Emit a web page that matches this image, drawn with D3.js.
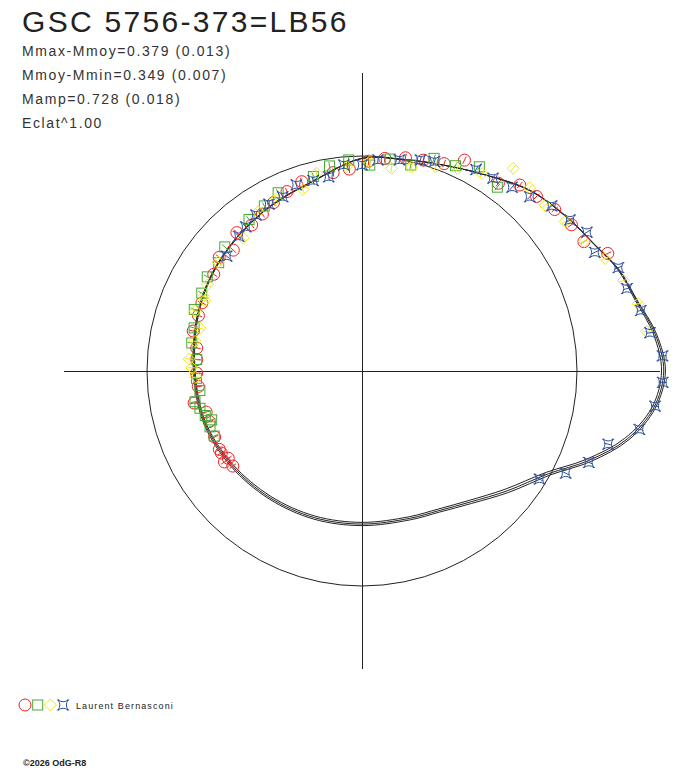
<!DOCTYPE html>
<html>
<head>
<meta charset="utf-8">
<script src="https://cdn.jsdelivr.net/npm/d3@7"></script>
<style>
  html, body { margin: 0; padding: 0; background: #fff; }
  svg { display: block; }
  text { font-family: "Liberation Sans", Arial, sans-serif; fill: #222; }
</style>
</head>
<body>
<svg id="chart" width="688" height="768"></svg>
<script>
// header texts
var title = "GSC 5756-373=LB56";
var statLines = ["Mmax-Mmoy=0.379 (0.013)", "Mmoy-Mmin=0.349 (0.007)", "Mamp=0.728 (0.018)", "Eclat^1.00"];
var observer = "Laurent Bernasconi";
var footer = "\u00a92026 OdG-R8";

// fitted curves : phase / (mag - Mmoy)
var fitPhase = [0.00, 0.02, 0.04, 0.06, 0.08, 0.10, 0.13, 0.16, 0.19, 0.22, 0.25, 0.29, 0.33, 0.37, 0.41, 0.45, 0.50, 0.55, 0.60, 0.65, 0.70, 0.75, 0.80, 0.83, 0.86, 0.89, 0.92, 0.94, 0.96, 0.98];
var fitMagA = [-0.368, -0.345, -0.300, -0.270, -0.224, -0.194, -0.150, -0.082, -0.032, -0.002, 0.012, 0.100, 0.142, 0.176, 0.203, 0.235, 0.270, 0.283, 0.316, 0.344, 0.361, 0.369, 0.356, 0.325, 0.255, 0.145, 0.010, -0.135, -0.262, -0.340];
var fitMagB = [-0.360, -0.339, -0.296, -0.268, -0.223, -0.193, -0.149, -0.082, -0.032, -0.002, 0.013, 0.101, 0.144, 0.178, 0.206, 0.239, 0.275, 0.290, 0.325, 0.355, 0.373, 0.381, 0.368, 0.337, 0.268, 0.160, 0.024, -0.122, -0.252, -0.333];
var fitMagC = [-0.374, -0.350, -0.303, -0.272, -0.225, -0.195, -0.151, -0.083, -0.032, -0.003, 0.011, 0.099, 0.140, 0.174, 0.200, 0.231, 0.264, 0.276, 0.307, 0.334, 0.350, 0.358, 0.345, 0.314, 0.243, 0.132, -0.002, -0.146, -0.270, -0.346];

// observations, 4 series
var redPhase = [0.260, 0.245, 0.233, 0.218, 0.205, 0.190, 0.178, 0.150, 0.138, 0.125, 0.111, 0.097, 0.084, 0.071, 0.273, 0.299, 0.313, 0.327, 0.340, 0.353, 0.367, 0.380, 0.393, 0.408, 0.436, 0.448, 0.463, 0.478, 0.489, 0.502, 0.515, 0.530, 0.541, 0.551, 0.567, 0.580, 0.584, 0.592, 0.593, 0.601];
var redMag = [0.066, 0.026, 0.006, -0.013, -0.023, -0.040, -0.094, -0.083, -0.137, -0.150, -0.170, -0.187, -0.193, -0.257, 0.076, 0.086, 0.109, 0.133, 0.158, 0.175, 0.154, 0.214, 0.178, 0.211, 0.230, 0.238, 0.233, 0.275, 0.283, 0.285, 0.291, 0.249, 0.313, 0.315, 0.311, 0.302, 0.302, 0.323, 0.288, 0.318];

var greenPhase = [0.260, 0.244, 0.229, 0.213, 0.198, 0.182, 0.167, 0.149, 0.275, 0.289, 0.320, 0.335, 0.352, 0.383, 0.397, 0.413, 0.428, 0.444, 0.460, 0.474, 0.489, 0.507, 0.519, 0.529, 0.536, 0.544, 0.550, 0.556, 0.566];
var greenMag = [0.018, 0.046, 0.006, 0.017, -0.047, -0.052, -0.099, -0.065, 0.038, 0.076, 0.095, 0.124, 0.140, 0.163, 0.195, 0.186, 0.204, 0.201, 0.234, 0.239, 0.283, 0.283, 0.299, 0.256, 0.279, 0.301, 0.334, 0.308, 0.311];

var yellowPhase = [0.262, 0.244, 0.227, 0.212, 0.195, 0.180, 0.163, 0.148, 0.132, 0.117, 0.101, 0.084, 0.069, 0.053, 0.038, 0.022, 0.286, 0.300, 0.324, 0.342, 0.366, 0.397, 0.419, 0.430, 0.433, 0.445, 0.459, 0.472, 0.489, 0.497, 0.506];
var yellowMag = [0.050, 0.028, 0.053, 0.026, -0.010, -0.044, -0.078, -0.176, -0.156, -0.151, -0.173, -0.195, -0.239, -0.274, -0.303, -0.315, 0.063, 0.129, 0.123, 0.134, 0.203, 0.190, 0.211, 0.223, 0.240, 0.211, 0.271, 0.258, 0.235, 0.253, 0.280];

var bluePhase = [0.264, 0.250, 0.238, 0.222, 0.207, 0.197, 0.168, 0.155, 0.141, 0.128, 0.114, 0.100, 0.088, 0.075, 0.061, 0.048, 0.034, 0.021, 0.008, 0.277, 0.290, 0.304, 0.318, 0.331, 0.345, 0.358, 0.368, 0.388, 0.913, 0.926, 0.939, 0.954, 0.967, 0.981, 0.994];
var blueMag = [0.042, 0.046, 0.017, 0.003, -0.020, -0.033, -0.080, -0.088, -0.107, -0.128, -0.170, -0.194, -0.224, -0.212, -0.273, -0.277, -0.307, -0.327, -0.365, 0.095, 0.097, 0.093, 0.126, 0.128, 0.142, 0.162, 0.177, 0.208, 0.037, -0.063, -0.140, -0.193, -0.300, -0.344, -0.365];

var svg = d3.select("#chart");
var cx = 362, cy = 371, R0 = 215, axisLen = 298;
var ink = "#222";

// phase -> d3 radial angle (0 at right, counter clockwise)
var angle = d3.scaleLinear().domain([0, 1]).range([Math.PI / 2, Math.PI / 2 - 2 * Math.PI]);
// brightness radius : Eclat^1.00
var flux = d3.scaleLinear().domain([0, 1]).range([0, -0.4]);
function radius(dm) { return R0 * Math.pow(10, flux(dm)); }

var plot = svg.append("g").attr("transform", "translate(" + cx + "," + cy + ")");

// reference circle (Mmoy) and axes
plot.append("circle").attr("r", R0).attr("fill", "none").attr("stroke", ink).attr("stroke-width", 1);
plot.append("line").attr("x1", -axisLen).attr("x2", axisLen).attr("y1", 0.5).attr("y2", 0.5)
  .attr("stroke", ink).attr("shape-rendering", "crispEdges");
plot.append("line").attr("x1", 0.5).attr("x2", 0.5).attr("y1", -axisLen).attr("y2", axisLen)
  .attr("stroke", ink).attr("shape-rendering", "crispEdges");

// fitted curves
var radial = d3.lineRadial()
  .angle(function(d) { return angle(d[0]); })
  .radius(function(d) { return radius(d[1]); })
  .curve(d3.curveCatmullRomClosed.alpha(0.5));

[fitMagA, fitMagB, fitMagC].forEach(function(mags) {
  plot.append("path")
    .attr("d", radial(d3.zip(fitPhase, mags)))
    .attr("fill", "none").attr("stroke", ink).attr("stroke-width", 1);
});

// marker shapes
var starPath = "M-5,-5Q0,-1.5 5,-5Q1.5,0 5,5Q0,1.5 -5,5Q-1.5,0 -5,-5Z M-6,-5H-4 M4,-5H6 M-6,5H-4 M4,5H6";
var series = [
  {phase: redPhase, mag: redMag, color: "#ee2222", shape: "circle"},
  {phase: greenPhase, mag: greenMag, color: "#44aa33", shape: "square"},
  {phase: yellowPhase, mag: yellowMag, color: "#f4ea00", shape: "diamond"},
  {phase: bluePhase, mag: blueMag, color: "#2f50a0", shape: "star"}
];

function drawMarker(g, shape, color) {
  if (shape == "circle") {
    g.append("circle").attr("r", 6);
  } else if (shape == "square") {
    g.append("rect").attr("x", -5).attr("y", -5).attr("width", 10).attr("height", 10);
  } else if (shape == "diamond") {
    g.append("path").attr("d", "M0,-6L6,0L0,6L-6,0Z");
  } else {
    g.append("path").attr("d", starPath);
  }
  g.selectAll("*").attr("fill", "none").attr("stroke", color).attr("stroke-width", 1);
}

series.forEach(function(s) {
  var pts = d3.zip(s.phase, s.mag);
  var g = plot.append("g");
  pts.forEach(function(p) {
    var a = angle(p[0]);
    var pos = d3.pointRadial(a, radius(p[1]));
    var m = g.append("g").attr("transform", "translate(" + pos[0] + "," + pos[1] + ")");
    drawMarker(m, s.shape, s.color);
    // small radial error tick
    var e1 = d3.pointRadial(a, -4), e2 = d3.pointRadial(a, 4);
    m.append("line").attr("x1", e1[0]).attr("y1", e1[1]).attr("x2", e2[0]).attr("y2", e2[1])
      .attr("stroke", s.color).attr("stroke-width", 1);
  });
});

// header
svg.append("text").attr("x", 22).attr("y", 32).attr("font-size", 30)
  .style("letter-spacing", "2.3px").text(title);
svg.selectAll(".stat").data(statLines).enter().append("text")
  .attr("class", "stat").attr("x", 22)
  .attr("y", function(d, i) { return 55.5 + i * 24.3; })
  .attr("font-size", 14).style("letter-spacing", "1.6px").style("fill", "#333")
  .text(function(d) { return d; });

// legend
var leg = svg.append("g").attr("transform", "translate(0,705)");
series.forEach(function(s, i) {
  var m = leg.append("g").attr("transform", "translate(" + (25 + i * 12.7) + ",0)");
  drawMarker(m, s.shape, s.color);
});
leg.append("text").attr("x", 76).attr("y", 4).attr("font-size", 9)
  .style("letter-spacing", "1.1px").text(observer);

svg.append("text").attr("x", 23).attr("y", 766).attr("font-size", 9)
  .attr("font-weight", "bold").text(footer);
</script>
</body>
</html>
